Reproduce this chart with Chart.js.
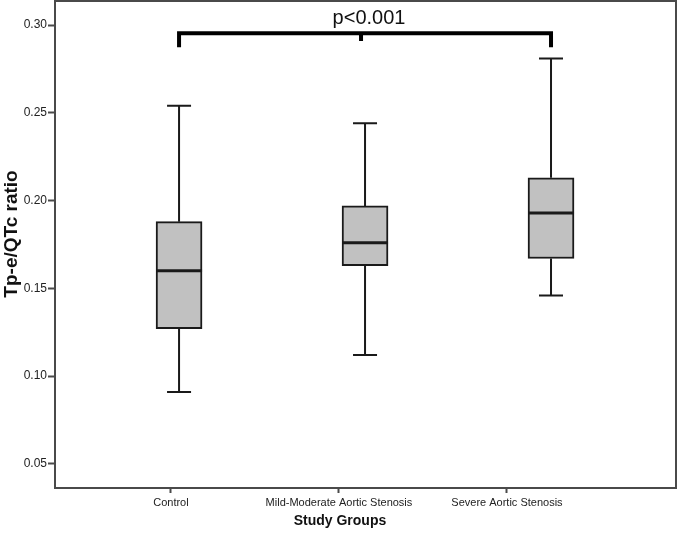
<!DOCTYPE html>
<html>
<head>
<meta charset="utf-8">
<script src="https://cdn.jsdelivr.net/npm/chart.js@4.4.1/dist/chart.umd.min.js"></script>
<style>
  html, body { margin: 0; padding: 0; background: #fff; }
  #wrap { width: 680px; height: 540px; }
</style>
</head>
<body>
<div id="wrap"><canvas id="myChart"></canvas></div>
<script>
// box plot data
var groups = ['Control', 'Mild-Moderate Aortic Stenosis', 'Severe Aortic Stenosis'];
var mins    = [0.091, 0.112, 0.146];
var q1s     = [0.127, 0.163, 0.167];
var medians = [0.160, 0.176, 0.193];
var q3s     = [0.188, 0.197, 0.213];
var maxs    = [0.254, 0.244, 0.281];
var yTicks  = [0.05, 0.10, 0.15, 0.20, 0.25, 0.30];
var pLabel  = 'p<0.001';
var xTitle  = 'Study Groups';
var yTitle  = 'Tp-e/QTc ratio';

var ink = '#1a1a1a';
var frame = '#4a4a4a';

// whiskers, medians, frame, bracket, axis titles
var boxExtras = {
    id: 'boxExtras',
    afterDatasetsDraw: function (chart) {
        var c = chart.ctx;
        var xs = chart.scales.xb;
        var ys = chart.scales.y;
        var a = chart.chartArea;
        c.save();
        c.strokeStyle = ink;
        c.lineCap = 'butt';
        for (var i = 0; i < groups.length; i++) {
            var x = xs.getPixelForValue(i);
            c.lineWidth = 2;
            c.beginPath();
            c.moveTo(x, ys.getPixelForValue(q3s[i]));
            c.lineTo(x, ys.getPixelForValue(maxs[i]));
            c.moveTo(x, ys.getPixelForValue(q1s[i]));
            c.lineTo(x, ys.getPixelForValue(mins[i]));
            c.moveTo(x - 12, ys.getPixelForValue(maxs[i]));
            c.lineTo(x + 12, ys.getPixelForValue(maxs[i]));
            c.moveTo(x - 12, ys.getPixelForValue(mins[i]));
            c.lineTo(x + 12, ys.getPixelForValue(mins[i]));
            c.stroke();
            // median
            c.lineWidth = 3;
            c.beginPath();
            c.moveTo(x - 23, ys.getPixelForValue(medians[i]));
            c.lineTo(x + 23, ys.getPixelForValue(medians[i]));
            c.stroke();
        }

        // significance bracket between first and last group
        var xl = xs.getPixelForValue(0), xr = xs.getPixelForValue(2), xm = xs.getPixelForValue(1) - 4;
        var yTop = ys.getPixelForValue(0.2954);
        var yLeg = ys.getPixelForValue(0.2874);
        var yMid = ys.getPixelForValue(0.2909);
        c.lineWidth = 4;
        c.strokeStyle = '#000';
        c.beginPath();
        c.moveTo(xl, yLeg);
        c.lineTo(xl, yTop);
        c.lineTo(xr, yTop);
        c.lineTo(xr, yLeg);
        c.moveTo(xm, yTop);
        c.lineTo(xm, yMid);
        c.stroke();
        c.fillStyle = '#111';
        c.font = '20px "Liberation Sans", Arial, sans-serif';
        c.textAlign = 'center';
        c.textBaseline = 'middle';
        c.fillText(pLabel, xm + 8, ys.getPixelForValue(0.3035));

        // frame round the plot
        c.lineWidth = 2;
        c.strokeStyle = frame;
        c.strokeRect(a.left, a.top, a.right - a.left, a.bottom - a.top);

        // x axis title, centred under the middle label
        var xt = chart.scales.x;
        c.fillStyle = '#111';
        c.font = 'bold 14px "Liberation Sans", Arial, sans-serif';
        c.fillText(xTitle, xt.getPixelForValue(1) + 1, 521);

        // y axis title
        c.translate(12, ys.getPixelForValue(0.181));
        c.rotate(-Math.PI / 2);
        c.font = 'bold 19px "Liberation Sans", Arial, sans-serif';
        c.fillText(yTitle, 0, 0);
        c.restore();
    }
};

var ctx = document.getElementById('myChart').getContext('2d');
var myChart = new Chart(ctx, {
    type: 'bar',
    data: {
        datasets: [{
            label: 'IQR',
            xAxisID: 'xb',
            data: groups.map(function (g, i) { return { x: i, y: [q1s[i], q3s[i]] }; }),
            backgroundColor: '#c1c1c1',
            borderColor: ink,
            borderWidth: 2,
            borderSkipped: false,
            barThickness: 46
        }]
    },
    options: {
        responsive: true,
        maintainAspectRatio: false,
        animation: false,
        layout: { padding: { top: 1, right: 4, left: 0, bottom: 0 } },
        plugins: { legend: { display: false }, tooltip: { enabled: false } },
        scales: {
            xb: {
                type: 'linear',
                display: false,
                offset: false,
                min: -0.667,
                max: 2.672
            },
            x: {
                type: 'linear',
                position: 'bottom',
                offset: false,
                min: -0.690,
                max: 3.006,
                afterBuildTicks: function (axis) {
                    axis.ticks = groups.map(function (g, i) { return { value: i }; });
                },
                afterFit: function (scale) {
                    scale.height = 52;
                    scale.paddingLeft = 0;
                    scale.paddingRight = 0;
                },
                ticks: {
                    autoSkip: false,
                    maxRotation: 0,
                    padding: 3,
                    color: '#222',
                    font: { family: '"Liberation Sans", Arial, sans-serif', size: 11 },
                    callback: function (v) { return groups[v]; }
                },
                grid: { display: true, offset: false, drawOnChartArea: false, drawTicks: true, tickLength: 5, tickWidth: 2, tickColor: frame },
                border: { display: true, color: frame, width: 2 }
            },
            y: {
                min: 0.0363,
                max: 0.3137,
                afterBuildTicks: function (axis) {
                    axis.ticks = yTicks.map(function (v) { return { value: v }; });
                },
                afterFit: function (scale) {
                    scale.width = 55;
                    scale.paddingTop = 0;
                    scale.paddingBottom = 0;
                },
                ticks: {
                    padding: 1,
                    color: '#222',
                    font: { family: '"Liberation Sans", Arial, sans-serif', size: 12 },
                    callback: function (v) { return v.toFixed(2); }
                },
                grid: { display: true, drawOnChartArea: false, drawTicks: true, tickLength: 7, tickWidth: 2, tickColor: frame },
                border: { display: true, color: frame, width: 2 }
            }
        }
    },
    plugins: [boxExtras]
});
</script>
</body>
</html>
